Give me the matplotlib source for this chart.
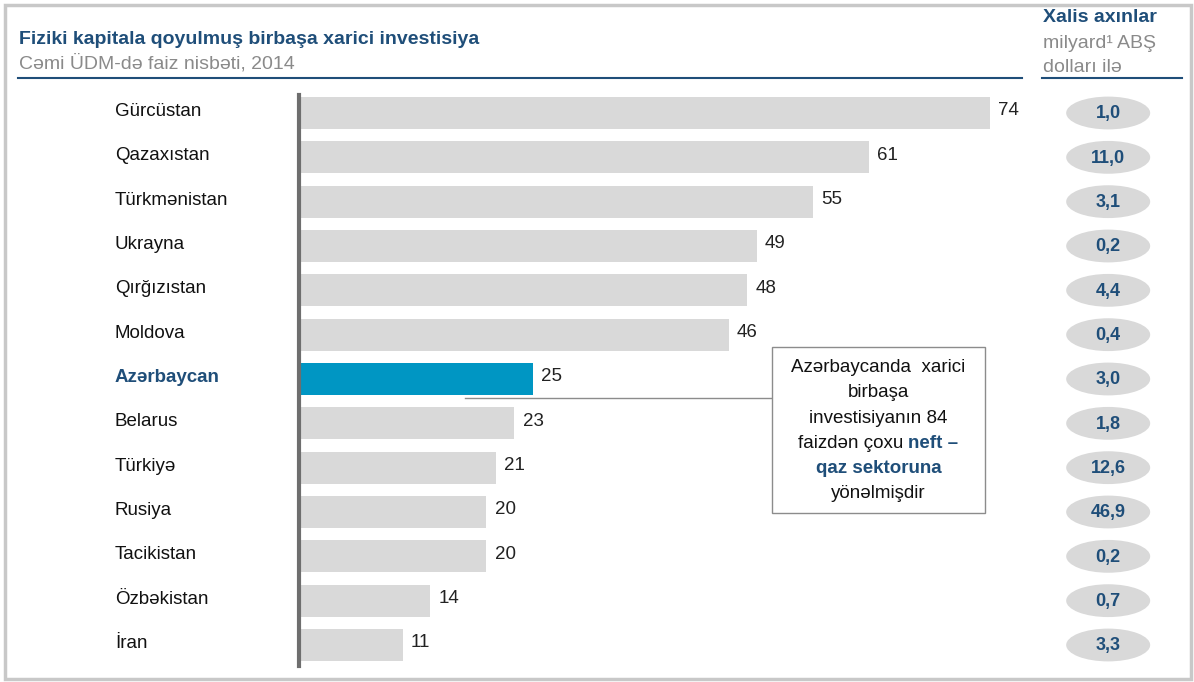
import matplotlib.pyplot as plt
from matplotlib.patches import Ellipse, Rectangle

plt.rcParams['font.family'] = ['Liberation Sans', 'DejaVu Sans']

# Data
countries = ['Gürcüstan', 'Qazaxıstan', 'Türkmənistan', 'Ukrayna', 'Qırğızıstan',
             'Moldova', 'Azərbaycan', 'Belarus', 'Türkiyə', 'Rusiya',
             'Tacikistan', 'Özbəkistan', 'İran']
fdi_share = [74, 61, 55, 49, 48, 46, 25, 23, 21, 20, 20, 14, 11]
net_flows = ['1,0', '11,0', '3,1', '0,2', '4,4', '0,4', '3,0',
             '1,8', '12,6', '46,9', '0,2', '0,7', '3,3']
highlight = 'Azərbaycan'

W, H = 1194, 682
navy = '#1F4E79'
grey_bar = '#D9D9D9'
blue_bar = '#0096C3'
fs = 13.5


def fx(px):
    return px / W


def fy(py):
    return 1 - py / H


fig = plt.figure(figsize=(W / 100, H / 100), dpi=100)

# outer frame
fig.patches.append(Rectangle((fx(5), fy(679)), fx(1186), 674 / H, transform=fig.transFigure,
                             fill=False, edgecolor='#C8C8C8', linewidth=2.5))

# main bar axes: rows centred at y=113..645 px, 0 at x=300 px, 9.32 px per unit
row_h = (645 - 113) / 12
ax = fig.add_axes([fx(300), fy(645 + row_h / 2), fx(78 * 9.32), (12 + 1) * row_h / H])
ypos = list(range(len(countries)))
colors = [blue_bar if c == highlight else grey_bar for c in countries]
ax.barh(ypos, fdi_share, height=0.72, color=colors)
ax.set_xlim(0, 78)
ax.set_ylim(12.5, -0.5)
ax.axis('off')

for y, v in zip(ypos, fdi_share):
    ax.text(v + 0.9, y - 0.05, str(v), va='center', ha='left', fontsize=fs, color='#222222')

for y, c in zip(ypos, countries):
    if c == highlight:
        fig.text(fx(115), fy(113 + y * row_h) + 0.002, c, ha='left', va='center',
                 fontsize=fs, fontweight='bold', color=navy)
    else:
        fig.text(fx(115), fy(113 + y * row_h) + 0.002, c, ha='left', va='center',
                 fontsize=fs, color='#111111')

# vertical baseline
fig.add_artist(plt.Line2D([fx(299), fx(299)], [fy(95), fy(666)], color='#6E6E6E', linewidth=3))


# callout box
def row(py):
    return (py - 113) / row_h


ax.plot([(465 - 300) / 9.32, (772 - 300) / 9.32], [row(398), row(398)], color='#8C8C8C',
        linewidth=1, clip_on=False)
bx0, bx1 = (772 - 300) / 9.32, (985 - 300) / 9.32
ax.add_patch(Rectangle((bx0, row(347)), bx1 - bx0, row(513) - row(347), facecolor='white',
                       edgecolor='#8C8C8C', linewidth=1, clip_on=False, zorder=3))
cx = (bx0 + bx1) / 2
box_lines = [('Azərbaycanda  xarici', 368), ('birbaşa', 393), ('investisiyanın 84', 419)]
for t, py in box_lines:
    ax.text(cx, row(py), t, ha='center', va='center', fontsize=fs, color='#111111', zorder=4)
ax.text((903 - 300) / 9.32, row(444), 'faizdən çoxu', ha='right', va='center', fontsize=fs,
        color='#111111', zorder=4)
ax.text((908 - 300) / 9.32, row(444), 'neft –', ha='left', va='center', fontsize=fs,
        fontweight='bold', color=navy, zorder=4)
ax.text(cx, row(469), 'qaz sektoruna', ha='center', va='center', fontsize=fs,
        fontweight='bold', color=navy, zorder=4)
ax.text(cx, row(494), 'yönəlmişdir', ha='center', va='center', fontsize=fs,
        color='#111111', zorder=4)

# net flow ellipses
ax2 = fig.add_axes([fx(1040), fy(645 + row_h / 2), fx(140), (12 + 1) * row_h / H])
ax2.set_xlim(0, 1)
ax2.set_ylim(12.5, -0.5)
ax2.axis('off')
for y, f in zip(ypos, net_flows):
    ax2.add_patch(Ellipse((0.487, y), 0.6, 0.74, facecolor='#D9D9D9', edgecolor='none'))
    ax2.text(0.487, y + 0.02, f, ha='center', va='center', fontsize=13, fontweight='bold',
             color=navy)

# titles
fig.text(fx(19), fy(40), 'Fiziki kapitala qoyulmuş birbaşa xarici investisiya', ha='left',
         va='center', fontsize=14, fontweight='bold', color=navy)
fig.text(fx(19), fy(63), 'Cəmi ÜDM-də faiz nisbəti, 2014', ha='left', va='center',
         fontsize=14, color='#8A8A8A')
fig.add_artist(plt.Line2D([fx(18), fx(1022)], [fy(78), fy(78)], color=navy, linewidth=1.5))

fig.text(fx(1043), fy(17), 'Xalis axınlar', ha='left', va='center', fontsize=14,
         fontweight='bold', color=navy)
fig.text(fx(1043), fy(44), 'milyard¹ ABŞ', ha='left', va='center', fontsize=14,
         color='#8A8A8A')
fig.text(fx(1043), fy(68), 'dolları ilə', ha='left', va='center', fontsize=14,
         color='#8A8A8A')
fig.add_artist(plt.Line2D([fx(1042), fx(1182)], [fy(78), fy(78)], color=navy, linewidth=1.5))

fig.savefig('out.png', dpi=100)
